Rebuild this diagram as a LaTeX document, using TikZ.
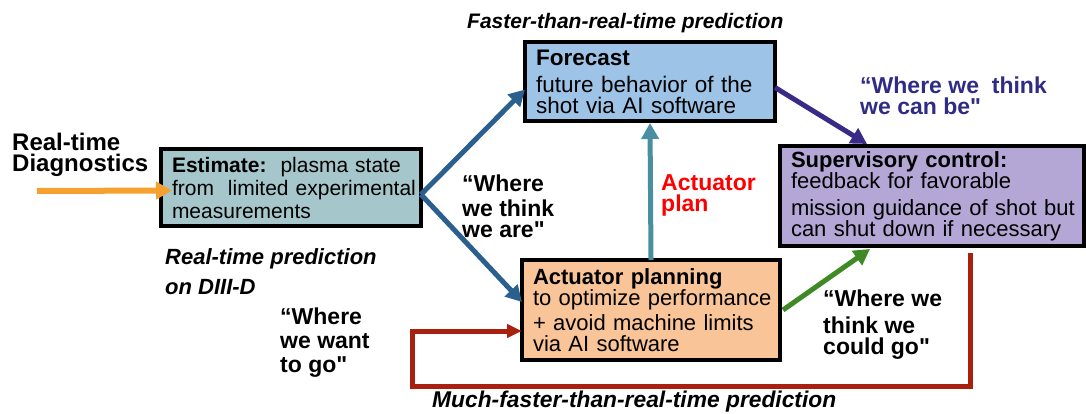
\documentclass[tikz,border=0pt]{standalone}
\usepackage{fontspec}
\setmainfont{Liberation Sans}
\usepackage{xcolor}
\usetikzlibrary{arrows.meta,positioning,calc}
\definecolor{estfill}{HTML}{A5C6CA}
\definecolor{fcstfill}{HTML}{9DC3E6}
\definecolor{supfill}{HTML}{B4A7D6}
\definecolor{actfill}{HTML}{F8C498}
\definecolor{diagorange}{HTML}{F4A12F}
\definecolor{estblue}{HTML}{2A5F8E}
\definecolor{planteal}{HTML}{4A8FA0}
\definecolor{fcstpurple}{HTML}{3A2A88}
\definecolor{canbenavy}{HTML}{2E2C84}
\definecolor{couldgreen}{HTML}{3F8A25}
\definecolor{loopred}{HTML}{A8200E}
\newcommand{\qend}{\textquotedbl}

\begin{document}
\begin{tikzpicture}[
  x=1pt, y=-1pt,
  box/.style={rectangle, draw=black, line width=4pt, outer sep=0pt, anchor=north west, align=left, inner xsep=11pt, inner ysep=0pt, font=\fontsize{22}{21}\selectfont},
  say/.style={anchor=north west, inner sep=0pt, align=left, font=\bfseries\fontsize{23}{21}\selectfont},
  title/.style={anchor=north west, inner sep=0pt, align=left, font=\bfseries\itshape\fontsize{22}{30}\selectfont},
  flow/.style={-{Triangle[length=16pt,width=17pt]}, line width=5pt}
]
\useasboundingbox (0,0) rectangle (1086,414);

\node[box, fill=estfill, text width=238pt, minimum height=77pt, font=\fontsize{21}{23}\selectfont] (est) at (161,149)
  {\mbox{\textbf{Estimate:}\ \ plasma state}\\ \mbox{from\ \ limited experimental}\\ measurements};
\node[box, fill=fcstfill, text width=228pt, minimum height=79pt, font=\fontsize{22.5}{21}\selectfont] (fcst) at (525,42)
  {\textbf{Forecast}\\[6pt] \mbox{future behavior of the}\\ \mbox{shot via AI software}};
\node[box, fill=supfill, text width=282pt, minimum height=100pt] (sup) at (780,146)
  {\mbox{\textbf{Supervisory control:}}\\ \mbox{feedback for favorable}\\[6pt] \mbox{mission guidance of shot but}\\ \mbox{can shut down if necessary}};
\node[box, fill=actfill, text width=236pt, minimum height=100pt] (act) at (522,260)
  {\mbox{\textbf{Actuator planning}}\\ \mbox{to optimize performance}\\[4pt] \mbox{+ avoid machine limits}\\ \mbox{via AI software}};

\node[say, font=\bfseries\fontsize{24}{20.5}\selectfont] (diag) at (12,133) {Real-time\\Diagnostics};
\node[title] (rtpred) at (165,248) {Real-time prediction\\on DIII-D};
\node[title, font=\bfseries\itshape\fontsize{21}{24}\selectfont] (ftitle) at (467,13) {Faster-than-real-time prediction};
\node[title, font=\bfseries\itshape\fontsize{22.8}{24}\selectfont] (mftitle) at (432,391) {Much-faster-than-real-time prediction};

\node[say] (weare) at (462,175) {“Where\\[4pt] we think\\ we are\qend};
\node[say, text=canbenavy] (wecanbe) at (860,77) {“Where we\ \ think\\ we can be\qend};
\node[say, text=red, font=\bfseries\fontsize{23}{21}\selectfont] (actplan) at (661,174) {Actuator\\ plan};
\node[say] (wecouldgo) at (823,290) {“Where we\\[6pt] think we\\ could go\qend};
\node[say, font=\bfseries\fontsize{23}{24}\selectfont] (wewant) at (280,308) {“Where\\ we want\\ to go\qend};

\coordinate (diagin) at (37,191);
\coordinate (loopbr) at (970,386);
\coordinate (loopbl) at (412,386);

\draw[flow, diagorange, line width=6pt] (diagin) -- ([xshift=11pt,yshift=-3pt]est.west);
\draw[flow, estblue] ([yshift=-7pt]est.east) -- ([yshift=-8pt]fcst.west);
\draw[flow, estblue] ([yshift=-7pt]est.east) -- ([yshift=8pt]act.west);
\draw[flow, planteal] (act.north) -- ([yshift=-2pt]fcst.south);
\draw[flow, fcstpurple] ([yshift=-6pt]fcst.east) -- ([xshift=87pt,yshift=2pt]sup.north west);
\draw[flow, couldgreen] ([xshift=3pt]act.east) -- ([xshift=90pt,yshift=-3pt]sup.south west);

% feedback loop back into the planner
\draw[flow, loopred, -{Triangle[length=15pt,width=13pt]}] ([xshift=190pt,yshift=-7pt]sup.south west) -- (loopbr) -- (loopbl) |- ([yshift=-21pt]act.west);

\end{tikzpicture}
\end{document}
